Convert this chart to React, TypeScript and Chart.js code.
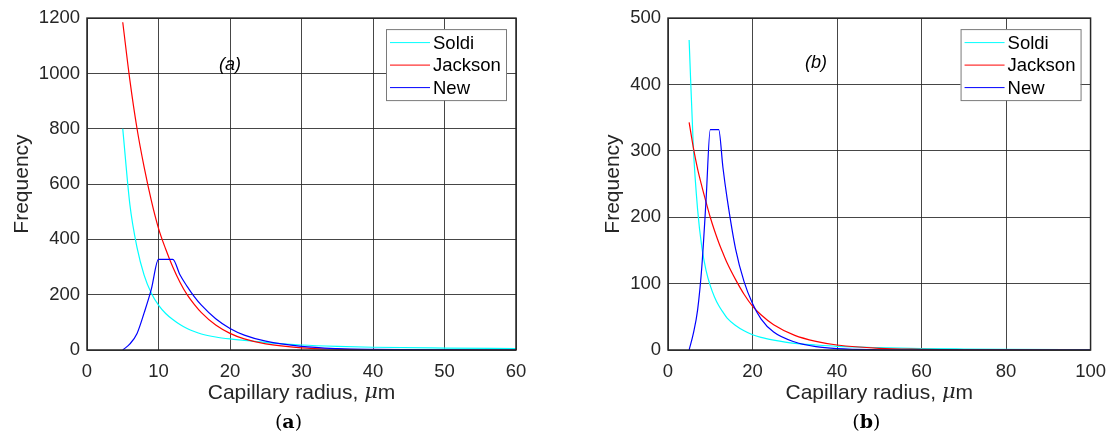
import React, { useEffect, useRef } from "react";
import { Chart, registerables } from "chart.js";

Chart.register(...registerables);

// ---------- data ----------
const radiusA = [5, 6, 7, 8, 9, 10, 11, 12, 13, 14, 15, 16, 18, 20, 22, 25, 30, 35, 40, 50, 60];
const soldiA = [800, 525, 370, 270, 205, 162, 132, 110, 92, 78, 67, 58, 47, 40, 35, 27, 18, 13, 10, 7, 5];
const jacksonA = [1185, 975, 800, 660, 540, 440, 365, 300, 245, 200, 165, 135, 90, 60, 40, 22, 8, 3, 1, 0.2, 0];
const newA = [0, 22, 60, 135, 220, 328, 328, 328, 272, 230, 193, 162, 113, 78, 54, 32, 13, 5, 2, 0.3, 0];

const radiusB = [5, 6, 7, 8, 9, 10, 11, 12, 13, 14, 16, 18, 20, 22, 25, 30, 35, 40, 50, 60, 70, 80, 100];
const soldiB = [467, 305, 212, 155, 120, 97, 80, 67, 57, 48, 37, 29, 23, 19, 15, 10, 7.5, 5.5, 3.5, 2.2, 1.5, 1, 0.6];
const jacksonB = [343, 305, 273, 247, 223, 200, 180, 162, 146, 131, 106, 84, 66, 53, 38, 22, 13, 7.5, 2.5, 1, 0.3, 0.1, 0];
const newB = [0, 25, 60, 125, 225, 332, 332, 332, 275, 228, 152, 103, 70, 47, 27, 12, 5, 2, 0.3, 0, 0, 0, 0];

const seriesNames = ["Soldi", "Jackson", "New"];
const seriesColors = ["#00ffff", "#ff0000", "#0000ff"];

const xTitleMain = "Capillary radius, ";
const xTitleMu = "\u03bc";
const xTitleUnit = "m";
const yTitle = "Frequency";

const SANS = "'Liberation Sans', Arial, Helvetica, sans-serif";
const SERIF = "'DejaVu Serif', 'Liberation Serif', serif";
const TEXT = "#262626";

type PanelProps = {
  radius: number[];
  series: number[][];
  xMax: number;
  xStep: number;
  yMax: number;
  yStep: number;
  innerLabel: string;
  innerAt: [number, number];
  caption: string;
  width: number;
  yAxisWidth: number;
  yTitlePad: number;
  rightPad: number;
};

function Panel(p: PanelProps) {
  const ref = useRef<HTMLCanvasElement | null>(null);

  useEffect(() => {
    if (!ref.current) return;

    const decor = {
      id: "decor",
      afterDraw(chart: any) {
        const { ctx, chartArea: ca, scales } = chart;
        ctx.save();
        // frame
        ctx.strokeStyle = TEXT;
        ctx.lineWidth = 1.5;
        ctx.strokeRect(ca.left, ca.top, ca.right - ca.left, ca.bottom - ca.top);

        // inner italic label
        ctx.fillStyle = "#000";
        ctx.font = `italic 18px ${SANS}`;
        ctx.textAlign = "center";
        ctx.textBaseline = "middle";
        ctx.fillText(
          p.innerLabel,
          scales.x.getPixelForValue(p.innerAt[0]),
          scales.y.getPixelForValue(p.innerAt[1])
        );

        // x axis title with italic mu
        const tcx = (ca.left + ca.right) / 2;
        const tcy = 393;
        ctx.textAlign = "left";
        ctx.fillStyle = TEXT;
        ctx.font = `21px ${SANS}`;
        const w1 = ctx.measureText(xTitleMain).width;
        const w3 = ctx.measureText(xTitleUnit).width;
        ctx.font = `italic 21px ${SERIF}`;
        const w2 = ctx.measureText(xTitleMu).width;
        let tx = tcx - (w1 + w2 + w3) / 2;
        ctx.font = `21px ${SANS}`;
        ctx.fillText(xTitleMain, tx, tcy);
        ctx.font = `italic 21px ${SERIF}`;
        ctx.fillText(xTitleMu, tx + w1, tcy);
        ctx.font = `21px ${SANS}`;
        ctx.fillText(xTitleUnit, tx + w1 + w2, tcy);

        // legend
        const bw = 120;
        const bh = 71;
        const bx = ca.right - 10 - bw;
        const by = ca.top + 11;
        ctx.fillStyle = "#ffffff";
        ctx.fillRect(bx, by, bw, bh);
        ctx.strokeStyle = "#7a7a7a";
        ctx.lineWidth = 1;
        ctx.strokeRect(bx + 0.5, by + 0.5, bw, bh);
        ctx.font = `18.5px ${SANS}`;
        ctx.textAlign = "left";
        ctx.textBaseline = "middle";
        seriesNames.forEach((name, i) => {
          const ly = by + 13.5 + i * 22.5;
          ctx.strokeStyle = seriesColors[i];
          ctx.lineWidth = 1;
          ctx.beginPath();
          ctx.moveTo(bx + 4, ly);
          ctx.lineTo(bx + 44, ly);
          ctx.stroke();
          ctx.fillStyle = "#000";
          ctx.fillText(name, bx + 47, ly + 1);
        });

        // caption below: "(" bold letter ")"
        const cx = (ca.left + ca.right) / 2 - 13;
        const cy = 423;
        ctx.fillStyle = "#000";
        ctx.textBaseline = "middle";
        ctx.font = `19px ${SERIF}`;
        const wp = ctx.measureText("(").width;
        const wc = ctx.measureText(")").width;
        ctx.font = `bold 19px ${SERIF}`;
        const wl = ctx.measureText(p.caption).width;
        const x0 = cx - (wp + wl + wc) / 2;
        ctx.textAlign = "left";
        ctx.font = `19px ${SERIF}`;
        ctx.fillText("(", x0, cy);
        ctx.font = `bold 19px ${SERIF}`;
        ctx.fillText(p.caption, x0 + wp, cy);
        ctx.font = `19px ${SERIF}`;
        ctx.fillText(")", x0 + wp + wl, cy);
        ctx.restore();
      },
    };

    const datasets = p.series.map((vals, i) => ({
      label: seriesNames[i],
      data: p.radius.map((r, k) => ({ x: r, y: vals[k] })),
      borderColor: seriesColors[i],
      backgroundColor: seriesColors[i],
      borderWidth: 1.2,
      pointRadius: 0,
      fill: false,
      cubicInterpolationMode: "monotone" as const,
      order: 2 - i,
    }));

    const chart = new Chart(ref.current, {
      type: "line",
      data: { datasets },
      options: {
        animation: false,
        responsive: false,
        devicePixelRatio: 1,
        layout: { padding: { left: 0, right: p.rightPad, top: 17, bottom: 0 } },
        plugins: {
          legend: { display: false },
          tooltip: { enabled: false },
        },
        scales: {
          x: {
            type: "linear",
            min: 0,
            max: p.xMax,
            ticks: {
              stepSize: p.xStep,
              color: TEXT,
              font: { family: SANS, size: 18.5 },
              padding: 11,
              maxRotation: 0,
              callback: (v: any) => String(v),
            },
            grid: { color: "rgba(38,38,38,0.85)", lineWidth: 1, drawTicks: false },
            border: { display: false },
            title: { display: false },
            afterFit: (s: any) => {
              s.height = 88;
            },
          },
          y: {
            type: "linear",
            min: 0,
            max: p.yMax,
            ticks: {
              stepSize: p.yStep,
              color: TEXT,
              font: { family: SANS, size: 18.5 },
              padding: 7,
              callback: (v: any) => String(v),
            },
            grid: { color: "rgba(38,38,38,0.85)", lineWidth: 1, drawTicks: false },
            border: { display: false },
            title: {
              display: true,
              text: yTitle,
              color: TEXT,
              font: { family: SANS, size: 21, lineHeight: 1.2 },
              padding: { top: p.yTitlePad, bottom: 0 },
            },
            afterFit: (s: any) => {
              s.width = p.yAxisWidth;
            },
          },
        },
      },
      plugins: [decor],
    });

    return () => chart.destroy();
  }, []);

  return (
    <canvas
      ref={ref}
      width={p.width}
      height={438}
      style={{ display: "block", width: p.width, height: 438 }}
    />
  );
}

export default function App() {
  return (
    <div
      style={{
        position: "absolute",
        left: 0,
        top: 0,
        width: 1117,
        height: 438,
        display: "flex",
        background: "#fff",
      }}
    >
      <Panel
        radius={radiusA}
        series={[soldiA, jacksonA, newA]}
        xMax={60}
        xStep={10}
        yMax={1200}
        yStep={200}
        innerLabel="(a)"
        innerAt={[20, 1030]}
        caption="a"
        width={558}
        yAxisWidth={87}
        yTitlePad={10}
        rightPad={42}
      />
      <Panel
        radius={radiusB}
        series={[soldiB, jacksonB, newB]}
        xMax={100}
        xStep={20}
        yMax={500}
        yStep={100}
        innerLabel="(b)"
        innerAt={[35, 432]}
        caption="b"
        width={559}
        yAxisWidth={110}
        yTitlePad={43}
        rightPad={19}
      />
    </div>
  );
}
